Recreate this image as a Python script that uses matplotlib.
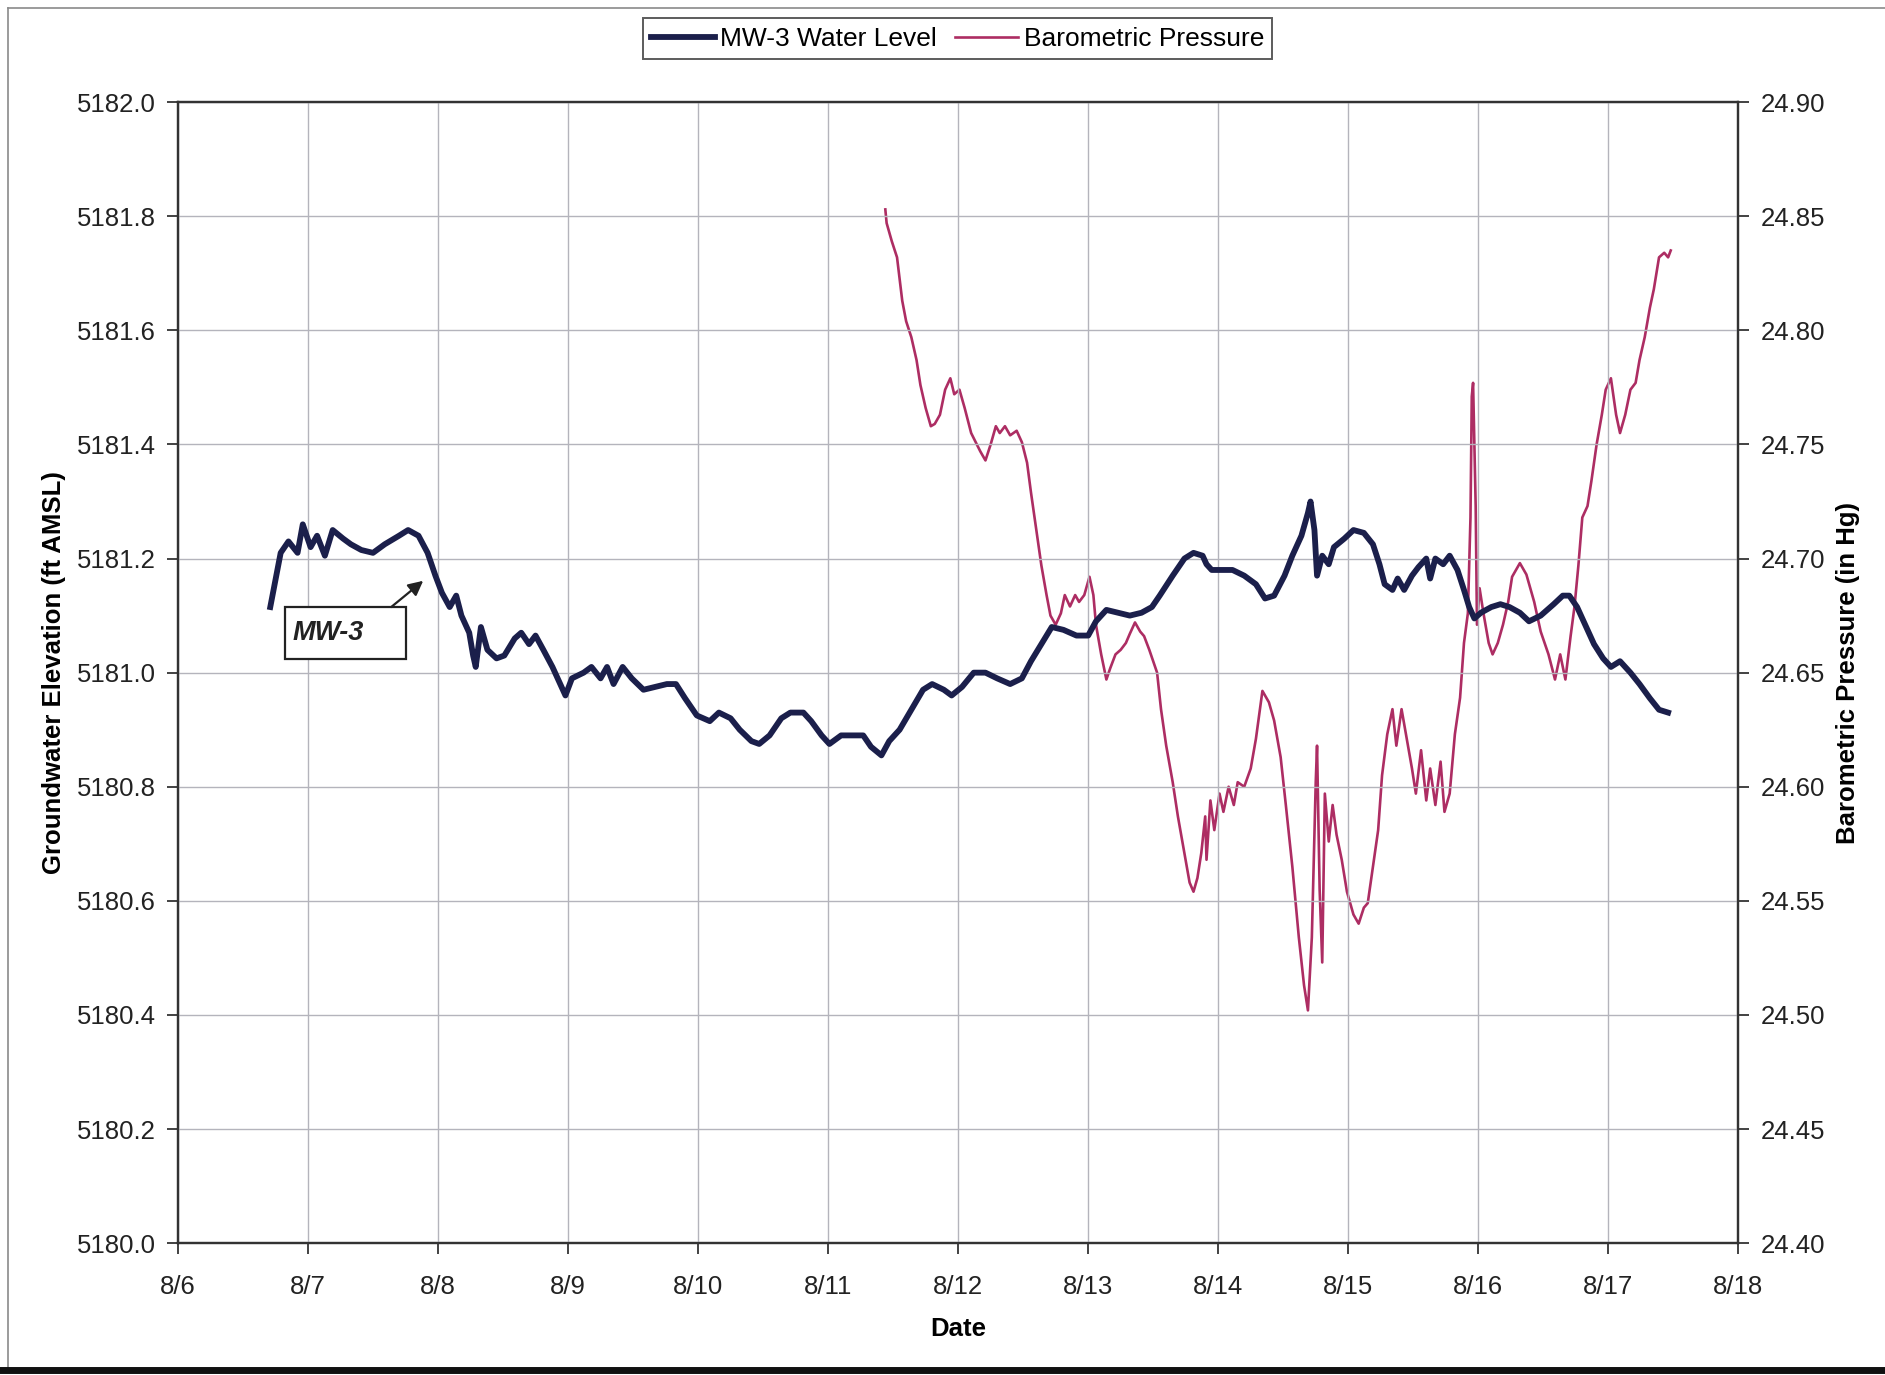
import numpy as np
import matplotlib.pyplot as plt
from matplotlib.patches import Rectangle

plt.rcParams['font.family'] = ['Liberation Sans', 'DejaVu Sans']

# MW-3 transducer record (day of August, ft AMSL)
mw3_day = [6.71, 6.79, 6.85, 6.92, 6.96, 7.02, 7.07, 7.13, 7.19, 7.27, 7.33, 7.41, 7.50,
           7.59, 7.70, 7.77, 7.85, 7.92, 7.98, 8.03, 8.09, 8.14, 8.18, 8.24, 8.27, 8.29,
           8.33, 8.38, 8.45, 8.51, 8.59, 8.64, 8.70, 8.75, 8.81, 8.88, 8.94, 8.98, 9.03,
           9.12, 9.18, 9.25, 9.30, 9.35, 9.42, 9.49, 9.58, 9.67, 9.76, 9.83, 9.90, 9.99,
           10.09, 10.16, 10.25, 10.32, 10.41, 10.47, 10.55, 10.64, 10.71, 10.81, 10.87,
           10.95, 11.01, 11.10, 11.20, 11.27, 11.33, 11.41, 11.47, 11.55, 11.64, 11.73,
           11.80, 11.89, 11.95, 12.03, 12.12, 12.21, 12.30, 12.40, 12.49, 12.56, 12.64,
           12.72, 12.81, 12.91, 13.00, 13.06, 13.14, 13.23, 13.32, 13.41, 13.49, 13.55,
           13.65, 13.74, 13.81, 13.88, 13.91, 13.95, 14.02, 14.11, 14.20, 14.29, 14.36,
           14.43, 14.51, 14.57, 14.64, 14.69, 14.71, 14.74, 14.76, 14.80, 14.85, 14.89,
           14.97, 15.04, 15.12, 15.19, 15.24, 15.28, 15.34, 15.38, 15.43, 15.49, 15.54,
           15.60, 15.63, 15.67, 15.73, 15.78, 15.84, 15.89, 15.93, 15.97, 16.02, 16.10,
           16.17, 16.24, 16.32, 16.39, 16.48, 16.58, 16.65, 16.70, 16.76, 16.82, 16.89,
           16.96, 17.02, 17.09, 17.17, 17.24, 17.32, 17.39, 17.46]
mw3_elev = [5181.115, 5181.21, 5181.23, 5181.21, 5181.26, 5181.22, 5181.24, 5181.205,
            5181.25, 5181.235, 5181.225, 5181.215, 5181.21, 5181.225, 5181.24, 5181.25,
            5181.24, 5181.21, 5181.17, 5181.14, 5181.115, 5181.135, 5181.10, 5181.07,
            5181.03, 5181.01, 5181.08, 5181.04, 5181.025, 5181.03, 5181.06, 5181.07,
            5181.05, 5181.065, 5181.04, 5181.01, 5180.98, 5180.96, 5180.99, 5181.00,
            5181.01, 5180.99, 5181.01, 5180.98, 5181.01, 5180.99, 5180.97, 5180.975,
            5180.98, 5180.98, 5180.955, 5180.925, 5180.915, 5180.93, 5180.92, 5180.90,
            5180.88, 5180.875, 5180.89, 5180.92, 5180.93, 5180.93, 5180.915, 5180.89,
            5180.875, 5180.89, 5180.89, 5180.89, 5180.87, 5180.855, 5180.88, 5180.90,
            5180.935, 5180.97, 5180.98, 5180.97, 5180.96, 5180.975, 5181.00, 5181.00,
            5180.99, 5180.98, 5180.99, 5181.02, 5181.05, 5181.08, 5181.075, 5181.065,
            5181.065, 5181.09, 5181.11, 5181.105, 5181.10, 5181.105, 5181.115, 5181.135,
            5181.17, 5181.20, 5181.21, 5181.205, 5181.19, 5181.18, 5181.18, 5181.18,
            5181.17, 5181.155, 5181.13, 5181.135, 5181.17, 5181.205, 5181.24, 5181.28,
            5181.30, 5181.25, 5181.17, 5181.205, 5181.19, 5181.22, 5181.235, 5181.25,
            5181.245, 5181.225, 5181.19, 5181.155, 5181.145, 5181.165, 5181.145, 5181.17,
            5181.185, 5181.20, 5181.165, 5181.20, 5181.19, 5181.205, 5181.18, 5181.145,
            5181.115, 5181.095, 5181.105, 5181.115, 5181.12, 5181.115, 5181.105, 5181.09,
            5181.10, 5181.12, 5181.135, 5181.135, 5181.115, 5181.085, 5181.05, 5181.025,
            5181.01, 5181.02, 5181.00, 5180.98, 5180.955, 5180.935, 5180.93]

# barometric pressure record (day of August, in Hg)
baro_day = [11.44, 11.45, 11.49, 11.53, 11.57, 11.60, 11.64, 11.68, 11.71, 11.75,
            11.79, 11.82, 11.86, 11.90, 11.94, 11.97, 12.01, 12.05, 12.10, 12.17,
            12.21, 12.25, 12.29, 12.32, 12.36, 12.40, 12.45, 12.49, 12.53, 12.56,
            12.60, 12.64, 12.68, 12.71, 12.75, 12.79, 12.82, 12.86, 12.90, 12.93,
            12.97, 13.01, 13.04, 13.06, 13.10, 13.14, 13.17, 13.21, 13.25, 13.29,
            13.32, 13.36, 13.40, 13.43, 13.47, 13.53, 13.56, 13.60, 13.65, 13.69,
            13.74, 13.78, 13.81, 13.84, 13.87, 13.90, 13.91, 13.94, 13.97, 14.01,
            14.04, 14.08, 14.12, 14.15, 14.20, 14.25, 14.29, 14.34, 14.39, 14.43,
            14.48, 14.52, 14.57, 14.62, 14.66, 14.69, 14.72, 14.75, 14.76, 14.78,
            14.80, 14.82, 14.85, 14.88, 14.91, 14.95, 14.99, 15.04, 15.08, 15.12,
            15.15, 15.19, 15.23, 15.26, 15.30, 15.34, 15.37, 15.41, 15.45, 15.49,
            15.52, 15.56, 15.60, 15.63, 15.67, 15.71, 15.74, 15.78, 15.82, 15.86,
            15.89, 15.92, 15.94, 15.95, 15.96, 15.98, 15.99, 16.01, 16.04, 16.08,
            16.11, 16.15, 16.19, 16.23, 16.26, 16.32, 16.37, 16.43, 16.48, 16.54,
            16.59, 16.63, 16.67, 16.71, 16.74, 16.77, 16.80, 16.84, 16.87, 16.91,
            16.95, 16.98, 17.02, 17.06, 17.09, 17.13, 17.17, 17.21, 17.24, 17.28,
            17.32, 17.35, 17.39, 17.43, 17.46, 17.48]
baro_inhg = [24.853, 24.847, 24.839, 24.832, 24.813, 24.804, 24.797, 24.787, 24.776,
             24.766, 24.758, 24.759, 24.763, 24.774, 24.779, 24.772, 24.774, 24.766,
             24.755, 24.747, 24.743, 24.750, 24.758, 24.755, 24.758, 24.754, 24.756,
             24.751, 24.742, 24.729, 24.713, 24.697, 24.684, 24.675, 24.671, 24.676,
             24.684, 24.679, 24.684, 24.681, 24.684, 24.692, 24.684, 24.671, 24.658,
             24.647, 24.652, 24.658, 24.660, 24.663, 24.667, 24.672, 24.668, 24.666,
             24.660, 24.650, 24.634, 24.618, 24.602, 24.587, 24.571, 24.558, 24.554,
             24.560, 24.571, 24.587, 24.568, 24.594, 24.581, 24.597, 24.589, 24.600,
             24.592, 24.602, 24.600, 24.608, 24.621, 24.642, 24.637, 24.629, 24.613,
             24.592, 24.565, 24.534, 24.513, 24.502, 24.534, 24.602, 24.618, 24.555,
             24.523, 24.597, 24.576, 24.592, 24.579, 24.568, 24.554, 24.544, 24.540,
             24.547, 24.549, 24.565, 24.581, 24.605, 24.623, 24.634, 24.618, 24.634,
             24.621, 24.608, 24.597, 24.616, 24.594, 24.608, 24.592, 24.611, 24.589,
             24.597, 24.623, 24.639, 24.663, 24.676, 24.718, 24.771, 24.777, 24.723,
             24.671, 24.687, 24.676, 24.663, 24.658, 24.663, 24.671, 24.681, 24.692,
             24.698, 24.693, 24.681, 24.668, 24.658, 24.647, 24.658, 24.647, 24.666,
             24.679, 24.697, 24.718, 24.723, 24.734, 24.750, 24.763, 24.774, 24.779,
             24.763, 24.755, 24.763, 24.774, 24.777, 24.787, 24.797, 24.810, 24.818,
             24.832, 24.834, 24.832, 24.835]

date_ticks = list(range(6, 19))
date_labels = [f"8/{d}" for d in date_ticks]
elev_ticks = [5180.0, 5180.2, 5180.4, 5180.6, 5180.8, 5181.0, 5181.2, 5181.4, 5181.6, 5181.8, 5182.0]
baro_ticks = [24.40, 24.45, 24.50, 24.55, 24.60, 24.65, 24.70, 24.75, 24.80, 24.85, 24.90]

NAVY = "#1b1f4b"
MAGENTA = "#ad2d63"
GRID = "#b4b4bc"
INK = "#222222"

fig = plt.figure(figsize=(18.85, 13.75), dpi=100)
ax = fig.add_axes([0.0944, 0.0959, 0.8278, 0.8298])
ax2 = ax.twinx()

ax.set_zorder(2)
ax.patch.set_visible(False)

ln1, = ax.plot(mw3_day, mw3_elev, color=NAVY, lw=4.2, solid_joinstyle="round",
               label="MW-3 Water Level")
ln2, = ax2.plot(baro_day, baro_inhg, color=MAGENTA, lw=1.9, label="Barometric Pressure")

ax.set_xlim(6, 18)
ax.set_ylim(5180.0, 5182.0)
ax2.set_ylim(24.40, 24.90)

ax.set_xticks(date_ticks)
ax.set_xticklabels(date_labels)
ax.set_yticks(elev_ticks)
ax.set_yticklabels([f"{v:.1f}" for v in elev_ticks])
ax2.set_yticks(baro_ticks)
ax2.set_yticklabels([f"{v:.2f}" for v in baro_ticks])

ax2.grid(False)
ax.grid(True, color=GRID, lw=1.0)

for a in (ax, ax2):
    a.tick_params(labelsize=18.5, length=8, width=1.2, colors=INK, pad=8)
    for s in a.spines.values():
        s.set_color("#333333")
        s.set_linewidth(1.6)
ax.tick_params(axis="x", pad=15)

ax.set_xlabel("Date", fontsize=18.5, fontweight="bold", labelpad=13)
ax.set_ylabel("Groundwater Elevation (ft AMSL)", fontsize=18.5, fontweight="bold", labelpad=8)
ax2.set_ylabel("Barometric Pressure (in Hg)", fontsize=18.5, fontweight="bold", labelpad=8)

# label box with arrow pointing at the well trace
ax.add_patch(Rectangle((6.823, 5181.024), 0.934, 0.091, fc="white", ec=INK,
                       lw=1.6, zorder=5))
ax.text(6.88, 5181.069, "MW-3", fontsize=19.5, fontweight="bold", fontstyle="italic",
        color=INK, ha="left", va="center", zorder=6)
ax.annotate("", xy=(7.886, 5181.161), xytext=(7.64, 5181.115),
            arrowprops=dict(arrowstyle="-|>", color=INK, lw=1.6,
                            mutation_scale=22, shrinkA=0, shrinkB=0), zorder=6)

leg = fig.legend(handles=[ln1, ln2], loc="center", bbox_to_anchor=(0.508, 0.9718),
                 ncol=2, fontsize=19, frameon=True, fancybox=False, edgecolor="#333333",
                 handlelength=2.4, handletextpad=0.2, columnspacing=0.7,
                 borderpad=0.32)
leg.get_frame().set_linewidth(1.4)

# page edges: top and left rules, heavy bottom bar
fig.add_artist(plt.Line2D([0.0042, 1.0], [0.9942, 0.9942], transform=fig.transFigure,
                          color="#8a8a8a", lw=1.2))
fig.add_artist(plt.Line2D([0.0042, 0.0042], [0.004, 0.9942], transform=fig.transFigure,
                          color="#8a8a8a", lw=1.2))
fig.add_artist(plt.Line2D([0, 1], [0.0035, 0.0035], transform=fig.transFigure,
                          color="#111111", lw=5))

fig.savefig("out.png", dpi=100)
